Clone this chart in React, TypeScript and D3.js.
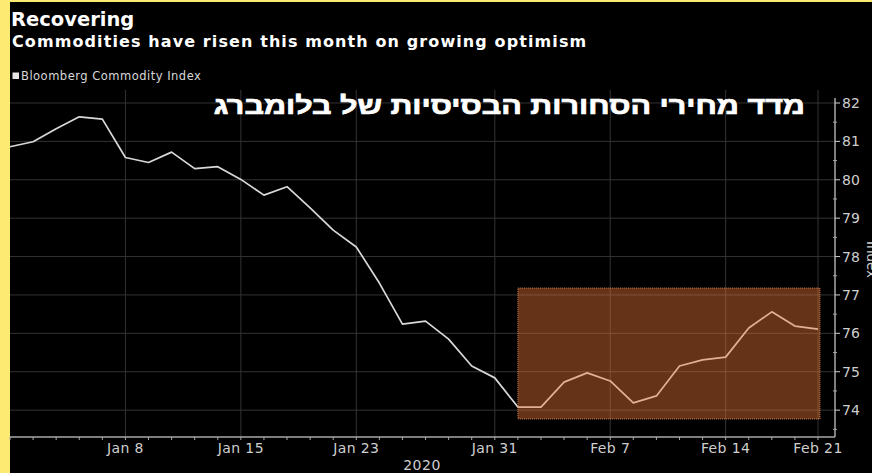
import React from "react";
import * as d3 from "d3";

const dates: string[] = [
  "2019-12-31", "2020-01-02", "2020-01-03", "2020-01-06", "2020-01-07", "2020-01-08",
  "2020-01-09", "2020-01-10", "2020-01-13", "2020-01-14", "2020-01-15", "2020-01-16",
  "2020-01-17", "2020-01-21", "2020-01-22", "2020-01-23", "2020-01-24", "2020-01-27",
  "2020-01-28", "2020-01-29", "2020-01-30", "2020-01-31", "2020-02-03", "2020-02-04",
  "2020-02-05", "2020-02-06", "2020-02-07", "2020-02-10", "2020-02-11", "2020-02-12",
  "2020-02-13", "2020-02-14", "2020-02-18", "2020-02-19", "2020-02-20", "2020-02-21",
];
const indexValues: number[] = [
  80.86, 80.99, 81.33, 81.64, 81.58, 80.58,
  80.45, 80.72, 80.29, 80.34, 80.01, 79.6,
  79.82, 79.27, 78.69, 78.25, 77.31, 76.24,
  76.32, 75.85, 75.15, 74.84, 74.08, 74.08,
  74.73, 74.97, 74.76, 74.19, 74.37, 75.15,
  75.31, 75.38, 76.14, 76.56, 76.19, 76.11,
];
const xTickDates: string[] = ["2020-01-08", "2020-01-15", "2020-01-23", "2020-01-31", "2020-02-07", "2020-02-14", "2020-02-21"];
const yTicks: number[] = [74, 75, 76, 77, 78, 79, 80, 81, 82];
const yMinorTicks: number[] = [73.5, 74.5, 75.5, 76.5, 77.5, 78.5, 79.5, 80.5, 81.5];
const highlightStart = "2020-02-03";
const highlightEnd = "2020-02-21";
const highlightRange: number[] = [73.77, 77.18];

const title = "Recovering";
const subtitle = "Commodities have risen this month on growing optimism";
const legendLabel = "Bloomberg Commodity Index";
const hebrewTitle = "מדד מחירי הסחורות הבסיסיות של בלומברג";
const yearLabel = "2020";
const yAxisLabel = "Index";

const W = 872;
const H = 473;

export default function App() {
  const x = d3.scalePoint<string>().domain(dates).range([10, 818]);
  const y = d3.scaleLinear().domain([73.3, 82.13]).range([437, 98]);
  const fmt = d3.timeFormat("%b %-d");
  const parse = d3.timeParse("%Y-%m-%d");

  const line = d3
    .line<number>()
    .x((_, i) => x(dates[i]) as number)
    .y((d) => y(d));

  const plotLeft = 10;
  const plotRight = 835;
  const plotTop = 90;
  const plotBottom = 437;

  const hx0 = x(highlightStart) as number;
  const hx1 = (x(highlightEnd) as number) + 2;
  const hy0 = y(highlightRange[1]);
  const hy1 = y(highlightRange[0]);

  return (
    <svg
      width={W}
      height={H}
      style={{ position: "absolute", left: 0, top: 0, display: "block" }}
      fontFamily="DejaVu Sans, Verdana, sans-serif"
    >
      <rect x={0} y={0} width={W} height={H} fill="#fdea72" />
      <rect x={10} y={2} width={W - 10} height={H - 2} fill="#000" />

      {/* grid */}
      {yTicks.map((t) => (
        <line key={"gy" + t} x1={plotLeft} x2={plotRight} y1={y(t)} y2={y(t)} stroke="#333" strokeWidth={1} />
      ))}
      {xTickDates.map((d) => (
        <line key={"gx" + d} x1={x(d)} x2={x(d)} y1={plotTop} y2={plotBottom} stroke="#333" strokeWidth={1} />
      ))}

      {/* line */}
      <path d={line(indexValues) || ""} fill="none" stroke="#d8d8d8" strokeWidth={1.7} strokeLinejoin="round" />

      {/* highlight */}
      <rect
        x={hx0}
        y={hy0}
        width={hx1 - hx0}
        height={hy1 - hy0}
        fill="#f07a3a"
        fillOpacity={0.42}
        stroke="#e8905a"
        strokeOpacity={0.8}
        strokeWidth={1}
        strokeDasharray="1,1"
      />

      {/* x axis */}
      <line x1={plotLeft} x2={plotRight} y1={plotBottom} y2={plotBottom} stroke="#a8a8a8" strokeWidth={1.5} />
      {dates.map((d) => (
        <line key={"tx" + d} x1={x(d)} x2={x(d)} y1={plotBottom} y2={plotBottom + 3} stroke="#a8a8a8" strokeWidth={1} />
      ))}
      {xTickDates.map((d) => (
        <text key={"lx" + d} x={x(d)} y={453} textAnchor="middle" fontSize={14} letterSpacing={0.4} fill="#cfcfcf">
          {fmt(parse(d) as Date)}
        </text>
      ))}
      <text x={422} y={470} textAnchor="middle" fontSize={14} letterSpacing={0.5} fill="#cfcfcf">
        {yearLabel}
      </text>

      {/* y axis */}
      <line x1={plotRight} x2={plotRight} y1={98} y2={plotBottom} stroke="#a8a8a8" strokeWidth={1.5} />
      {yMinorTicks.map((t) => (
        <line key={"my" + t} x1={plotRight - 2} x2={plotRight + 2} y1={y(t)} y2={y(t)} stroke="#a8a8a8" strokeWidth={1} />
      ))}
      {yTicks.map((t) => (
        <g key={"ly" + t}>
          <line x1={plotRight} x2={plotRight + 5} y1={y(t)} y2={y(t)} stroke="#cfcfcf" strokeWidth={1} />
          <text x={842} y={y(t)} dy="0.36em" fontSize={14} fill="#cfcfcf">
            {t}
          </text>
        </g>
      ))}
      <text
        transform={`translate(867,${(98 + plotBottom) / 2 - 8}) rotate(90)`}
        textAnchor="middle"
        fontSize={13.5}
        fill="#cfcfcf"
      >
        {yAxisLabel}
      </text>

      {/* titles */}
      <text x={11} y={26} fontSize={19.5} fontWeight="bold" fill="#ffffff">
        {title}
      </text>
      <text x={12} y={47} fontSize={16} letterSpacing={1.1} fontWeight="bold" fill="#ffffff">
        {subtitle}
      </text>
      <rect x={12.5} y={72.5} width={6.5} height={6.5} fill="#e6e6e6" />
      <text x={21} y={79.5} fontSize={11.5} letterSpacing={0.5} fill="#d8d8d8">
        {legendLabel}
      </text>
      <text
        transform="translate(805,114) scale(1.27,1)"
        x={0}
        y={0}
        textAnchor="end"
        fontSize={24}
        fontWeight="bold"
        fill="#ffffff"
        stroke="#ffffff"
        strokeWidth={0.7}
        fontFamily="Liberation Sans, Arial, sans-serif"
      >
        {hebrewTitle}
      </text>
    </svg>
  );
}
